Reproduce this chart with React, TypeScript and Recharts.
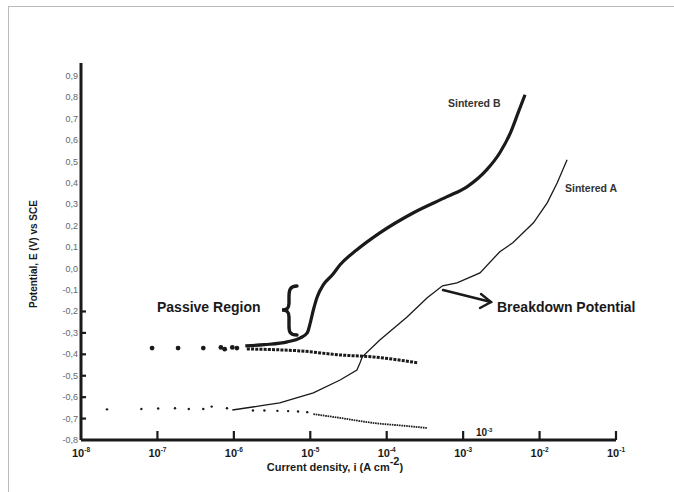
import { ComposedChart, Line, Scatter, XAxis, YAxis, ReferenceLine } from "recharts";

// x = log10(i / A cm^-2), y = E (V vs SCE)
const decades = [-8, -7, -6, -5, -4, -3, -2, -1];
const potentialTicks = [-0.8, -0.7, -0.6, -0.5, -0.4, -0.3, -0.2, -0.1, 0, 0.1, 0.2, 0.3, 0.4, 0.5, 0.6, 0.7, 0.8, 0.9];

const sinteredBDots = [
  { x: -7.07, y: -0.371 },
  { x: -6.73, y: -0.371 },
  { x: -6.4, y: -0.371 },
  { x: -6.17, y: -0.368 },
  { x: -6.12, y: -0.376 },
  { x: -6.02, y: -0.368 },
  { x: -5.96, y: -0.371 },
];

const sinteredBAnodic = [
  { x: -5.85, y: -0.361 },
  { x: -5.6, y: -0.355 },
  { x: -5.3, y: -0.342 },
  { x: -5.13, y: -0.323 },
  { x: -5.04, y: -0.3 },
  { x: -5.0, y: -0.253 },
  { x: -4.96, y: -0.193 },
  { x: -4.91, y: -0.132 },
  { x: -4.83, y: -0.076 },
  { x: -4.71, y: -0.029 },
  { x: -4.61, y: 0.018 },
  { x: -4.39, y: 0.088 },
  { x: -4.09, y: 0.167 },
  { x: -3.65, y: 0.261 },
  { x: -3.21, y: 0.336 },
  { x: -2.95, y: 0.382 },
  { x: -2.69, y: 0.462 },
  { x: -2.52, y: 0.541 },
  { x: -2.38, y: 0.635 },
  { x: -2.28, y: 0.728 },
  { x: -2.19, y: 0.812 },
];

const sinteredBCathodic = [
  { x: -5.83, y: -0.375 },
  { x: -5.5, y: -0.378 },
  { x: -5.13, y: -0.384 },
  { x: -4.61, y: -0.403 },
  { x: -4.18, y: -0.412 },
  { x: -3.59, y: -0.44 },
];

const sinteredADots = [
  { x: -7.66, y: -0.657 },
  { x: -7.21, y: -0.655 },
  { x: -6.99, y: -0.653 },
  { x: -6.77, y: -0.652 },
  { x: -6.59, y: -0.655 },
  { x: -6.4, y: -0.655 },
  { x: -6.29, y: -0.644 },
  { x: -6.09, y: -0.652 },
  { x: -5.75, y: -0.662 },
  { x: -5.6, y: -0.662 },
  { x: -5.43, y: -0.664 },
  { x: -5.29, y: -0.665 },
  { x: -5.16, y: -0.667 },
  { x: -5.04, y: -0.67 },
];

const sinteredAAnodic = [
  { x: -6.02, y: -0.66 },
  { x: -5.66, y: -0.641 },
  { x: -5.4, y: -0.627 },
  { x: -4.96, y: -0.58 },
  { x: -4.61, y: -0.52 },
  { x: -4.39, y: -0.473 },
  { x: -4.35, y: -0.44 },
  { x: -4.32, y: -0.412 },
  { x: -4.09, y: -0.333 },
  { x: -3.73, y: -0.225 },
  { x: -3.47, y: -0.136 },
  { x: -3.27, y: -0.08 },
  { x: -3.08, y: -0.066 },
  { x: -2.78, y: -0.02 },
  { x: -2.52, y: 0.079 },
  { x: -2.35, y: 0.121 },
  { x: -2.08, y: 0.214 },
  { x: -1.9, y: 0.307 },
  { x: -1.77, y: 0.4 },
  { x: -1.64, y: 0.508 },
];

const sinteredACathodic = [
  { x: -4.96, y: -0.679 },
  { x: -4.61, y: -0.697 },
  { x: -4.18, y: -0.72 },
  { x: -3.73, y: -0.735 },
  { x: -3.47, y: -0.744 },
];

const font = "'Liberation Sans', Arial, sans-serif";
const ink = "#1a1a1a";

function XTick({ x, y, payload }: any) {
  const v = payload.value as number;
  return (
    <g>
      {v > -8 && <line x1={x} x2={x} y1={y} y2={y - 9} stroke={ink} strokeWidth={2.2} />}
      <text x={x} y={y + 17} textAnchor="middle" fontFamily={font} fontWeight="bold" fontSize={11} fill={ink}>
        10
        <tspan fontSize={6.5} dy={-5}>
          {String(v)}
        </tspan>
      </text>
    </g>
  );
}

function YTick({ x, y, payload }: any) {
  const v = payload.value as number;
  const label = (Math.round(v * 10) / 10).toFixed(1).replace(".", ",");
  return (
    <g>
      {v <= -0.15 && v > -0.75 && <line x1={x} x2={x + 5} y1={y} y2={y} stroke={ink} strokeWidth={2.2} />}
      <text x={x - 3} y={y + 3} textAnchor="end" fontFamily={font} fontSize={9} fill="#666">
        {label}
      </text>
    </g>
  );
}

const bigDot = (p: any) => <circle cx={p.cx} cy={p.cy} r={2.4} fill={ink} />;
const smallDot = (p: any) => <circle cx={p.cx} cy={p.cy} r={1.2} fill={ink} />;

export default function App() {
  return (
    <div style={{ position: "absolute", left: 0, top: 0, width: 674, height: 492, background: "#fff" }}>
      <div
        style={{
          position: "absolute",
          left: 8,
          top: 6,
          width: 666,
          height: 486,
          borderTop: "1px solid #bbb",
          borderLeft: "1px solid #bbb",
        }}
      />
      <div style={{ position: "absolute", left: 0, top: 0 }}>
        <ComposedChart width={674} height={492} margin={{ top: 63, right: 58, bottom: 22, left: 40 }}>
          <XAxis
            type="number"
            dataKey="x"
            domain={[-8, -1]}
            ticks={decades}
            interval={0}
            height={30}
            tickLine={false}
            tickSize={0}
            tickMargin={0}
            axisLine={false}
            tick={<XTick />}
            allowDataOverflow
          />
          <YAxis
            type="number"
            dataKey="y"
            domain={[-0.8, 0.96]}
            ticks={potentialTicks}
            interval={0}
            width={41}
            tickLine={false}
            tickSize={0}
            tickMargin={0}
            axisLine={false}
            tick={<YTick />}
            allowDataOverflow
          />
          <ReferenceLine x={-8} stroke={ink} strokeWidth={3} ifOverflow="visible" />
          <ReferenceLine y={-0.8} stroke={ink} strokeWidth={3} ifOverflow="visible" />
          <Line data={sinteredBAnodic} dataKey="y" type="monotone" stroke={ink} strokeWidth={3.2} dot={false} isAnimationActive={false} />
          <Line
            data={sinteredBCathodic}
            dataKey="y"
            type="monotone"
            stroke={ink}
            strokeWidth={3}
            strokeDasharray="3 1.2"
            dot={false}
            isAnimationActive={false}
          />
          <Line data={sinteredAAnodic} dataKey="y" type="linear" stroke={ink} strokeWidth={1.3} dot={false} isAnimationActive={false} />
          <Line
            data={sinteredACathodic}
            dataKey="y"
            type="monotone"
            stroke={ink}
            strokeWidth={1.8}
            strokeDasharray="1.6 0.8"
            dot={false}
            isAnimationActive={false}
          />
          <Scatter data={sinteredBDots} dataKey="y" shape={bigDot} isAnimationActive={false} />
          <Scatter data={sinteredADots} dataKey="y" shape={smallDot} isAnimationActive={false} />
        </ComposedChart>
      </div>
      <svg width={674} height={492} style={{ position: "absolute", left: 0, top: 0, pointerEvents: "none" }}>
        <g fontFamily={font} fontWeight="bold" fill={ink}>
          <text x={448} y={107} fontSize={10.5} fill="#333">
            Sintered B
          </text>
          <text x={565} y={192} fontSize={10.5} fill="#333">
            Sintered A
          </text>
          <text x={157} y={312} fontSize={14}>
            Passive Region
          </text>
          <text x={497} y={312} fontSize={14}>
            Breakdown Potential
          </text>
          <text x={476} y={436} fontSize={10}>
            10
            <tspan fontSize={6} dy={-4}>
              -3
            </tspan>
          </text>
          <text x={335} y={471} fontSize={11} textAnchor="middle">
            Current density, i (A cm
            <tspan fontSize={11} dy={-6}>
              -2
            </tspan>
            <tspan dy={6}>)</tspan>
          </text>
          <text x={37} y={254} fontSize={10} textAnchor="middle" transform="rotate(-90 37 254)">
            Potential, E (V) vs SCE
          </text>
        </g>
        <path
          d="M 297 286 C 290 286, 289 290, 289 297 L 289 303 C 289 308, 287 310, 282 310 C 287 310, 289 312, 289 317 L 289 326 C 289 332, 290 335, 297 335"
          fill="none"
          stroke={ink}
          strokeWidth={3.4}
          strokeLinecap="round"
        />
        <g stroke={ink} strokeWidth={2.4} fill="none" strokeLinecap="round">
          <line x1={443} y1={290} x2={491} y2={302} />
          <polyline points="481,294 491,302 480,308" />
        </g>
      </svg>
    </div>
  );
}
